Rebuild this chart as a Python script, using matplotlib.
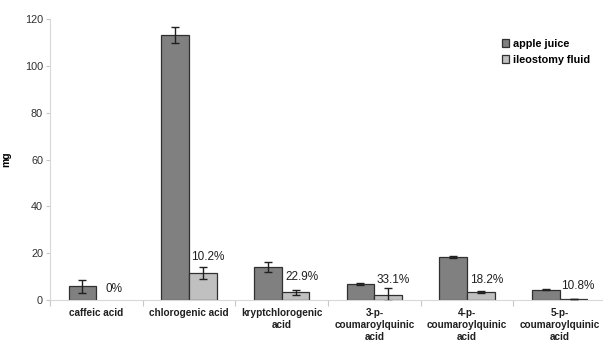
import numpy as np
import matplotlib
matplotlib.use("Agg")
import matplotlib.pyplot as plt

plt.rcParams['font.family'] = ['Liberation Sans', 'DejaVu Sans']

# Mengen in mg (Mittelwert und Standardabweichung)
categories = ['caffeic acid', 'chlorogenic acid', 'kryptchlorogenic\nacid',
              '3-p-\ncoumaroylquinic\nacid', '4-p-\ncoumaroylquinic\nacid',
              '5-p-\ncoumaroylquinic\nacid']
apple_juice = [5.8, 113.1, 14.1, 6.8, 18.4, 4.3]
apple_juice_sd = [2.7, 3.5, 2.1, 0.5, 0.4, 0.2]
ileostomy = [0.0, 11.5, 3.3, 2.3, 3.4, 0.45]
ileostomy_sd = [0.0, 2.6, 1.0, 2.7, 0.5, 0.15]
recovery = ['0%', '10.2%', '22.9%', '33.1%', '18.2%', '10.8%']
# Lage der Prozentangaben
label_y = [4.8, 18.5, 10.0, 8.7, 8.7, 6.1]
label_dx = [0.1, 0.02, 0.04, 0.02, 0.03, 0.01]

x = np.arange(len(categories))
w = 0.3

fig = plt.figure(figsize=(6.03, 3.42), dpi=100)
ax = fig.add_axes([50 / 603, 42 / 342, 556 / 603, 281 / 342])

ax.bar(x - w / 2, apple_juice, w, color='#808080', edgecolor='#303030',
       linewidth=0.9, label='apple juice', zorder=2)
ileo_bars = ax.bar(x + w / 2, ileostomy, w, color='#c0c0c0', edgecolor='#303030',
                   linewidth=0.9, label='ileostomy fluid', zorder=2)

ax.errorbar(x - w / 2, apple_juice, yerr=apple_juice_sd, fmt='none',
            ecolor='#202020', elinewidth=1, capsize=3, capthick=1, zorder=3)
ax.errorbar(x[1:] + w / 2, ileostomy[1:], yerr=ileostomy_sd[1:], fmt='none',
            ecolor='#202020', elinewidth=1, capsize=3, capthick=1, zorder=3)

for i, txt in enumerate(recovery):
    ax.text(x[i] + label_dx[i], label_y[i], txt, ha='left', va='center',
            fontsize=8.5, color='#202020')

ax.set_xlim(-0.5, len(categories) - 0.5)
ax.set_ylim(0, 120)
ax.set_yticks(range(0, 121, 20))
ax.tick_params(axis='y', labelsize=7.8, labelcolor='#303030', color='#c8c8c8',
               length=3, width=0.8, pad=2)

# Trennstriche zwischen den Kategorien statt Ticks in der Mitte
ax.set_xticks(np.arange(-0.5, len(categories) + 0.5, 1))
ax.set_xticklabels([])
ax.tick_params(axis='x', color='#c8c8c8', length=4, width=0.8)
for i, c in enumerate(categories):
    ax.text(x[i], -3.6, c, ha='center', va='top', fontsize=7.2,
            fontweight='bold', color='#202020', linespacing=1.25)

for s in ['top', 'right']:
    ax.spines[s].set_visible(False)
ax.spines['left'].set_color('#d8d8d8')
ax.spines['bottom'].set_color('#d8d8d8')

ax.set_ylabel('mg', fontsize=7.5, fontweight='bold', labelpad=10)

ax.legend(loc='upper left', bbox_to_anchor=(0.795, 0.965), frameon=False,
          prop={'size': 7.8, 'weight': 'bold'}, handlelength=0.7,
          handleheight=0.7, handletextpad=0.35, labelspacing=0.55)

# Balken mit 0 mg ohne Rand (erst nach der Legende)
for p, v in zip(ileo_bars, ileostomy):
    if v == 0:
        p.set_linewidth(0)

fig.savefig('out.png', dpi=100)
